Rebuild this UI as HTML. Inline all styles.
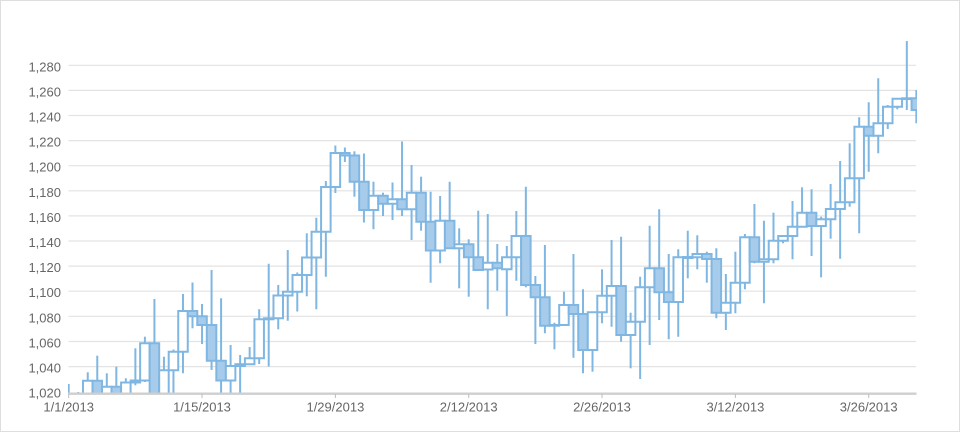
<!DOCTYPE html>
<html><head><meta charset="utf-8"><style>
html,body{margin:0;padding:0;background:#fff;}
svg{display:block;}
.c line,.c rect{vector-effect:non-scaling-stroke;stroke:#80b7e2;stroke-width:2;}
.c rect{fill:#fff;}
.c rect.f{fill:#a7cbea;}
text{font-family:"Liberation Sans",sans-serif;font-size:13px;fill:#666;}
</style></head><body>
<svg width="960" height="432" viewBox="0 0 960 432" xmlns="http://www.w3.org/2000/svg">
<rect x="0.5" y="0.5" width="959" height="431" fill="#fff" stroke="#dedede"/>
<defs><clipPath id="pc"><rect x="68" y="0" width="849" height="393.5"/></clipPath></defs>
<g stroke="#e3e3e3" stroke-width="1.2">
<line x1="68.5" x2="916" y1="65.3" y2="65.3"/>
<line x1="68.5" x2="916" y1="90.4" y2="90.4"/>
<line x1="68.5" x2="916" y1="115.5" y2="115.5"/>
<line x1="68.5" x2="916" y1="140.6" y2="140.6"/>
<line x1="68.5" x2="916" y1="165.7" y2="165.7"/>
<line x1="68.5" x2="916" y1="190.8" y2="190.8"/>
<line x1="68.5" x2="916" y1="215.9" y2="215.9"/>
<line x1="68.5" x2="916" y1="241.0" y2="241.0"/>
<line x1="68.5" x2="916" y1="266.1" y2="266.1"/>
<line x1="68.5" x2="916" y1="291.2" y2="291.2"/>
<line x1="68.5" x2="916" y1="316.3" y2="316.3"/>
<line x1="68.5" x2="916" y1="341.5" y2="341.5"/>
<line x1="68.5" x2="916" y1="366.6" y2="366.6"/>
</g>
<g text-anchor="end">
<text x="61" y="71.3">1,280</text>
<text x="61" y="96.4">1,260</text>
<text x="61" y="121.5">1,240</text>
<text x="61" y="146.6">1,220</text>
<text x="61" y="171.7">1,200</text>
<text x="61" y="196.8">1,180</text>
<text x="61" y="221.9">1,160</text>
<text x="61" y="247.0">1,140</text>
<text x="61" y="272.1">1,120</text>
<text x="61" y="297.2">1,100</text>
<text x="61" y="322.3">1,080</text>
<text x="61" y="347.5">1,060</text>
<text x="61" y="372.6">1,040</text>
<text x="61" y="397.5">1,020</text>
</g>
<g clip-path="url(#pc)">
<g class="c" transform="translate(68.7 0) scale(9.524 1)">
<line x1="0" x2="0" y1="384" y2="400"/><rect x="-0.5" y="396" width="1" height="4"/>
<line x1="1" x2="1" y1="392" y2="400"/><rect x="0.5" y="396" width="1" height="4"/>
<line x1="2" x2="2" y1="372.3" y2="400"/><rect x="1.5" y="380.7" width="1" height="19.3"/>
<line x1="3" x2="3" y1="355.7" y2="400"/><rect class="f" x="2.5" y="380.7" width="1" height="19.3"/>
<line x1="4" x2="4" y1="373.3" y2="400"/><rect x="3.5" y="386.7" width="1" height="13.3"/>
<line x1="5" x2="5" y1="366.7" y2="400"/><rect class="f" x="4.5" y="386.7" width="1" height="13.3"/>
<line x1="6" x2="6" y1="378.3" y2="400"/><rect x="5.5" y="382.5" width="1" height="17.5"/>
<line x1="7" x2="7" y1="348.3" y2="385.3"/><rect x="6.5" y="380.5" width="1" height="2"/>
<line x1="8" x2="8" y1="336.7" y2="382"/><rect x="7.5" y="343.3" width="1" height="37.2"/>
<line x1="9" x2="9" y1="299" y2="400"/><rect class="f" x="8.5" y="343.3" width="1" height="56.7"/>
<line x1="10" x2="10" y1="356.7" y2="400"/><rect x="9.5" y="370.3" width="1" height="29.7"/>
<line x1="11" x2="11" y1="349.5" y2="400"/><rect x="10.5" y="351.7" width="1" height="18.6"/>
<line x1="12" x2="12" y1="294" y2="373.3"/><rect x="11.5" y="311" width="1" height="40.7"/>
<line x1="13" x2="13" y1="282.5" y2="328.3"/><rect class="f" x="12.5" y="311" width="1" height="5.3"/>
<line x1="14" x2="14" y1="304" y2="344"/><rect class="f" x="13.5" y="316.3" width="1" height="8.7"/>
<line x1="15" x2="15" y1="270" y2="370"/><rect class="f" x="14.5" y="325" width="1" height="35.7"/>
<line x1="16" x2="16" y1="298.3" y2="400"/><rect class="f" x="15.5" y="360.7" width="1" height="19.8"/>
<line x1="17" x2="17" y1="345" y2="400"/><rect x="16.5" y="366" width="1" height="14.5"/>
<line x1="18" x2="18" y1="355" y2="400"/><rect x="17.5" y="364.2" width="1" height="1.8"/>
<line x1="19" x2="19" y1="347" y2="364.2"/><rect x="18.5" y="358.3" width="1" height="5.9"/>
<line x1="20" x2="20" y1="309.2" y2="364"/><rect x="19.5" y="319.3" width="1" height="39"/>
<line x1="21" x2="21" y1="263.7" y2="366.5"/><rect x="20.5" y="318.3" width="1" height="1"/>
<line x1="22" x2="22" y1="285" y2="329.3"/><rect x="21.5" y="295.5" width="1" height="22.8"/>
<line x1="23" x2="23" y1="250" y2="320.7"/><rect x="22.5" y="291.8" width="1" height="3.7"/>
<line x1="24" x2="24" y1="272.5" y2="311.5"/><rect x="23.5" y="275" width="1" height="16.8"/>
<line x1="25" x2="25" y1="233.3" y2="296.3"/><rect x="24.5" y="257.5" width="1" height="17.5"/>
<line x1="26" x2="26" y1="217.7" y2="309.3"/><rect x="25.5" y="231.7" width="1" height="25.8"/>
<line x1="27" x2="27" y1="181" y2="276.7"/><rect x="26.5" y="187" width="1" height="44.7"/>
<line x1="28" x2="28" y1="145.5" y2="193"/><rect x="27.5" y="153" width="1" height="34"/>
<line x1="29" x2="29" y1="147.5" y2="162"/><rect class="f" x="28.5" y="153" width="1" height="2.5"/>
<line x1="30" x2="30" y1="151.3" y2="196.7"/><rect class="f" x="29.5" y="155.5" width="1" height="26.2"/>
<line x1="31" x2="31" y1="153.5" y2="222.5"/><rect class="f" x="30.5" y="181.7" width="1" height="28.3"/>
<line x1="32" x2="32" y1="181.7" y2="229.2"/><rect x="31.5" y="195.8" width="1" height="14.2"/>
<line x1="33" x2="33" y1="192.7" y2="216"/><rect class="f" x="32.5" y="195.8" width="1" height="7.9"/>
<line x1="34" x2="34" y1="182.5" y2="220"/><rect x="33.5" y="199.2" width="1" height="4.5"/>
<line x1="35" x2="35" y1="141.5" y2="216"/><rect class="f" x="34.5" y="199.2" width="1" height="10"/>
<line x1="36" x2="36" y1="165" y2="240"/><rect x="35.5" y="192.7" width="1" height="16.5"/>
<line x1="37" x2="37" y1="176.7" y2="230.7"/><rect class="f" x="36.5" y="192.7" width="1" height="29"/>
<line x1="38" x2="38" y1="191.7" y2="282.7"/><rect class="f" x="37.5" y="221.7" width="1" height="28.8"/>
<line x1="39" x2="39" y1="196" y2="263.3"/><rect x="38.5" y="220.7" width="1" height="29.8"/>
<line x1="40" x2="40" y1="181.7" y2="248.3"/><rect class="f" x="39.5" y="220.7" width="1" height="27.6"/>
<line x1="41" x2="41" y1="228.3" y2="288.3"/><rect x="40.5" y="244.3" width="1" height="4"/>
<line x1="42" x2="42" y1="239.3" y2="296.7"/><rect class="f" x="41.5" y="244.3" width="1" height="13"/>
<line x1="43" x2="43" y1="210.7" y2="270.7"/><rect class="f" x="42.5" y="257.3" width="1" height="12.7"/>
<line x1="44" x2="44" y1="214" y2="309.3"/><rect x="43.5" y="262.7" width="1" height="6.8"/>
<line x1="45" x2="45" y1="244" y2="290.7"/><rect class="f" x="44.5" y="262.7" width="1" height="5.6"/>
<line x1="46" x2="46" y1="246" y2="316"/><rect x="45.5" y="257.3" width="1" height="12"/>
<line x1="47" x2="47" y1="211" y2="280.7"/><rect x="46.5" y="236" width="1" height="21.3"/>
<line x1="48" x2="48" y1="186.7" y2="287.3"/><rect class="f" x="47.5" y="236" width="1" height="49"/>
<line x1="49" x2="49" y1="276" y2="344"/><rect class="f" x="48.5" y="285" width="1" height="12.3"/>
<line x1="50" x2="50" y1="245" y2="333.3"/><rect class="f" x="49.5" y="297.3" width="1" height="28.4"/>
<line x1="51" x2="51" y1="322.7" y2="349.3"/><rect x="50.5" y="325" width="1" height="0.7"/>
<line x1="52" x2="52" y1="291.7" y2="326"/><rect x="51.5" y="305" width="1" height="20"/>
<line x1="53" x2="53" y1="254" y2="357.7"/><rect class="f" x="52.5" y="305" width="1" height="9"/>
<line x1="54" x2="54" y1="289.3" y2="373.3"/><rect class="f" x="53.5" y="314" width="1" height="36"/>
<line x1="55" x2="55" y1="311.7" y2="371.7"/><rect x="54.5" y="312.3" width="1" height="37.7"/>
<line x1="56" x2="56" y1="269.3" y2="323.3"/><rect x="55.5" y="295.7" width="1" height="16.6"/>
<line x1="57" x2="57" y1="240" y2="326.7"/><rect x="56.5" y="286" width="1" height="9.7"/>
<line x1="58" x2="58" y1="236.7" y2="341.7"/><rect class="f" x="57.5" y="286" width="1" height="49"/>
<line x1="59" x2="59" y1="312.7" y2="368.3"/><rect x="58.5" y="321.7" width="1" height="13.3"/>
<line x1="60" x2="60" y1="276.7" y2="379"/><rect x="59.5" y="287.3" width="1" height="34.4"/>
<line x1="61" x2="61" y1="225.7" y2="345"/><rect x="60.5" y="268.3" width="1" height="19"/>
<line x1="62" x2="62" y1="209.3" y2="320"/><rect class="f" x="61.5" y="268.3" width="1" height="24"/>
<line x1="63" x2="63" y1="254" y2="339.3"/><rect class="f" x="62.5" y="292.3" width="1" height="9.7"/>
<line x1="64" x2="64" y1="249.3" y2="336.7"/><rect x="63.5" y="257.3" width="1" height="44.7"/>
<line x1="65" x2="65" y1="230.7" y2="278.3"/><rect x="64.5" y="257" width="1" height="1"/>
<line x1="66" x2="66" y1="235.3" y2="269.3"/><rect x="65.5" y="254" width="1" height="3.3"/>
<line x1="67" x2="67" y1="251.7" y2="282.7"/><rect class="f" x="66.5" y="254" width="1" height="5"/>
<line x1="68" x2="68" y1="248.3" y2="318.3"/><rect class="f" x="67.5" y="259" width="1" height="53.7"/>
<line x1="69" x2="69" y1="274" y2="330"/><rect x="68.5" y="302.7" width="1" height="10"/>
<line x1="70" x2="70" y1="251.7" y2="313.3"/><rect x="69.5" y="282.7" width="1" height="20"/>
<line x1="71" x2="71" y1="234" y2="289.3"/><rect x="70.5" y="237.3" width="1" height="45.4"/>
<line x1="72" x2="72" y1="204" y2="263.3"/><rect class="f" x="71.5" y="237.3" width="1" height="24.4"/>
<line x1="73" x2="73" y1="220.7" y2="303.3"/><rect x="72.5" y="259.3" width="1" height="2.4"/>
<line x1="74" x2="74" y1="212.7" y2="263.3"/><rect x="73.5" y="240.7" width="1" height="18.6"/>
<line x1="75" x2="75" y1="236" y2="243.3"/><rect x="74.5" y="236" width="1" height="4.7"/>
<line x1="76" x2="76" y1="201" y2="259.3"/><rect x="75.5" y="226.7" width="1" height="9.3"/>
<line x1="77" x2="77" y1="187.3" y2="226.7"/><rect x="76.5" y="212.7" width="1" height="14"/>
<line x1="78" x2="78" y1="189.3" y2="256"/><rect class="f" x="77.5" y="212.7" width="1" height="13.3"/>
<line x1="79" x2="79" y1="216.7" y2="277.3"/><rect x="78.5" y="219.3" width="1" height="6.7"/>
<line x1="80" x2="80" y1="184" y2="238.7"/><rect x="79.5" y="209" width="1" height="10.3"/>
<line x1="81" x2="81" y1="161" y2="258.7"/><rect x="80.5" y="202.3" width="1" height="6.7"/>
<line x1="82" x2="82" y1="143.3" y2="206.7"/><rect x="81.5" y="178.3" width="1" height="24"/>
<line x1="83" x2="83" y1="117.3" y2="233.3"/><rect x="82.5" y="126.7" width="1" height="51.6"/>
<line x1="84" x2="84" y1="102.3" y2="171.7"/><rect class="f" x="83.5" y="126.7" width="1" height="9"/>
<line x1="85" x2="85" y1="78.3" y2="153.3"/><rect x="84.5" y="123.3" width="1" height="12.4"/>
<line x1="86" x2="86" y1="105" y2="129"/><rect x="85.5" y="106.7" width="1" height="16.6"/>
<line x1="87" x2="87" y1="98.7" y2="109.3"/><rect x="86.5" y="98.7" width="1" height="8"/>
<line x1="88" x2="88" y1="41" y2="110"/><rect x="87.5" y="98.3" width="1" height="0.7"/>
<line x1="89" x2="89" y1="90" y2="123.3"/><rect class="f" x="88.5" y="98.3" width="1" height="11.7"/>
</g>
</g>
<rect x="68" y="392.5" width="848.5" height="2.4" fill="#cfcfcf"/>
<g stroke="#bdbdbd" stroke-width="1">
<line x1="68.7" x2="68.7" y1="394" y2="398"/>
<line x1="202" x2="202" y1="394" y2="398"/>
<line x1="335.4" x2="335.4" y1="394" y2="398"/>
<line x1="468.7" x2="468.7" y1="394" y2="398"/>
<line x1="602" x2="602" y1="394" y2="398"/>
<line x1="735.4" x2="735.4" y1="394" y2="398"/>
<line x1="868.7" x2="868.7" y1="394" y2="398"/>
</g>
<g text-anchor="middle">
<text x="68.7" y="411.5">1/1/2013</text>
<text x="202" y="411.5">1/15/2013</text>
<text x="335.4" y="411.5">1/29/2013</text>
<text x="468.7" y="411.5">2/12/2013</text>
<text x="602" y="411.5">2/26/2013</text>
<text x="735.4" y="411.5">3/12/2013</text>
<text x="868.7" y="411.5">3/26/2013</text>
</g>
</svg>
</body></html>
